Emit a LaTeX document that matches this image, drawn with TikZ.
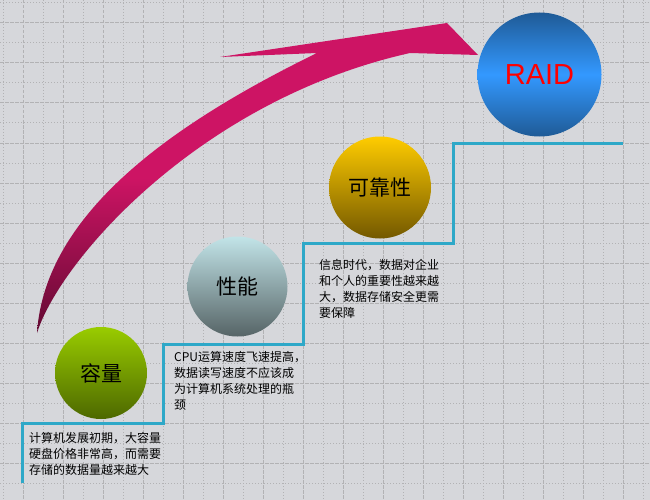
\documentclass[tikz,border=0pt]{standalone}
\usepackage{fontspec}
\newfontfamily\cjk{Noto Sans CJK SC}
\newfontfamily\latin{Liberation Sans}
\definecolor{bg}{RGB}{214,215,219}
\definecolor{gridgray}{RGB}{178,178,180}
\definecolor{stair}{RGB}{46,168,200}
\definecolor{swoosh}{RGB}{205,20,100}
\definecolor{swooshdark}{RGB}{98,10,50}
\definecolor{capTop}{RGB}{153,204,0}
\definecolor{capBot}{RGB}{77,104,0}
\definecolor{perfTop}{RGB}{194,228,232}
\definecolor{perfBot}{RGB}{86,100,102}
\definecolor{relTop}{RGB}{255,204,0}
\definecolor{relBot}{RGB}{115,88,0}
\definecolor{raidDark}{RGB}{31,90,150}
\definecolor{raidBlue}{RGB}{51,153,255}
\tikzset{
  ball/.style={circle,inner sep=0pt,font=\cjk\fontsize{21}{21}\selectfont},
  note/.style={anchor=north west,inner sep=0pt,align=left,font=\cjk\fontsize{12}{16}\selectfont},
  minor/.style={gridgray,line width=1pt,dash pattern=on 1pt off 2pt},
  major/.style={gridgray,line width=1pt,dash pattern=on 3.5pt off 1.5pt},
}
\begin{document}
\begin{tikzpicture}[x=1pt,y=-1pt]
\useasboundingbox (0,0) rectangle (650,500);
\fill[bg] (0,0) rectangle (650,500);
\foreach \k in {0,...,16} {
  \draw[minor] (3+40*\k,0) -- (3+40*\k,500);
  \draw[major] (23+40*\k,0) -- (23+40*\k,500);
}
\foreach \k in {0,...,12} {
  \draw[minor] (0,3+40*\k) -- (650,3+40*\k);
  \draw[major] (0,23+40*\k) -- (650,23+40*\k);
}
\shade[top color=swoosh,bottom color=swooshdark,middle color=swoosh]
  (37,333) .. controls (45,210) and (180,120) .. (317,53)
  -- (220,57) -- (447,23) -- (478,55) -- (410,53)
  .. controls (200,100) and (60,260) .. (37,333) -- cycle;
\draw[stair,line width=3pt] (22,483) -- (22,423) -- (163,423) -- (163,344) -- (303,344)
  -- (303,243) -- (453,243) -- (453,143) -- (623,143);
\node[ball,top color=capTop,bottom color=capBot,minimum size=92pt] (cap) at (101,373) {容量};
\node[ball,top color=perfTop,bottom color=perfBot,minimum size=100pt] (perf) at (237.5,286.5) {性能};
\node[ball,top color=relTop,bottom color=relBot,minimum size=102pt] (rel) at (380,187.5) {可靠性};
\node[ball,top color=raidDark,bottom color=raidDark,middle color=raidBlue,minimum size=124pt,
  text=red,font=\latin\fontsize{29}{29}\selectfont] (raid) at (539.5,74.5) {RAID};
\node[note] (capnote) at (29,432) {计算机发展初期，大容量\\硬盘价格非常高，而需要\\存储的数据量越来越大};
\node[note] (perfnote) at (174,351) {CPU运算速度飞速提高，\\数据读写速度不应该成\\为计算机系统处理的瓶\\颈};
\node[note] (relnote) at (319,259) {信息时代，数据对企业\\和个人的重要性越来越\\大，数据存储安全更需\\要保障};
\end{tikzpicture}
\end{document}
